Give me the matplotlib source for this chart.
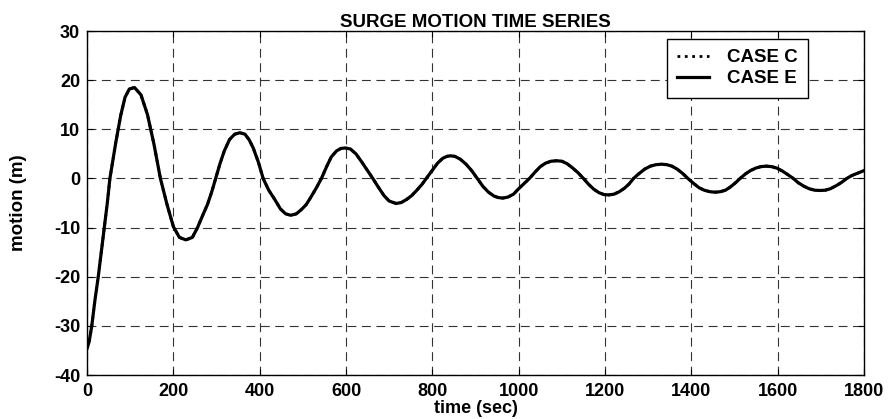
import matplotlib
matplotlib.use("Agg")
import matplotlib.pyplot as plt

# surge motion (time in s, motion in m)
time_s = [0, 5, 11, 18, 26, 33, 40, 47, 53,
          67, 78, 88, 98, 110,
          125, 140, 155, 170,
          185, 200, 214, 229,
          244, 256, 268, 279, 289, 298,
          308, 318, 330, 342, 354,
          366, 376, 385, 397, 408,
          421, 435, 448, 460, 472,
          485, 497, 508, 520, 532, 543,
          555, 566, 578, 588, 598,
          610, 623, 636, 649, 662,
          675, 688, 700, 716,
          728, 740, 752, 764, 776, 786,
          800, 812, 824, 834, 842,
          852, 865, 878, 891, 904,
          917, 930, 943, 953, 963,
          975, 988, 1001, 1013, 1025,
          1038, 1050, 1062, 1075, 1088,
          1100, 1112, 1124, 1137, 1150,
          1162, 1174, 1186, 1198, 1209,
          1221, 1233, 1245, 1256, 1266,
          1279, 1292, 1305, 1318, 1331,
          1343, 1355, 1367, 1380, 1392,
          1405, 1418, 1430, 1443, 1455,
          1467, 1479, 1491, 1502, 1513,
          1525, 1537, 1549, 1561, 1574,
          1586, 1598, 1611, 1623, 1636,
          1648, 1661, 1673, 1686, 1698,
          1710, 1722, 1735, 1748, 1760, 1772, 1786, 1800]

case_e = [-34.6, -33.2, -30.0, -25.0, -20.0, -15.0, -10.0, -5.0, 0.0,
          7.5, 12.8, 16.5, 18.2, 18.5,
          17.0, 13.0, 7.0, 0.0,
          -5.2, -9.8, -12.0, -12.5,
          -12.0, -10.0, -7.5, -5.3, -2.7, 0.0,
          3.0, 5.6, 7.9, 9.0, 9.3,
          9.0, 7.8, 6.2, 3.3, 0.0,
          -2.4, -4.3, -6.2, -7.2, -7.5,
          -7.2, -6.3, -5.3, -3.6, -1.8, 0.0,
          2.4, 4.4, 5.6, 6.1, 6.2,
          6.0, 5.0, 3.4, 1.7, 0.0,
          -1.8, -3.5, -4.6, -5.1,
          -4.9, -4.3, -3.5, -2.4, -1.2, 0.0,
          1.7, 3.1, 4.1, 4.5, 4.6,
          4.5, 3.9, 2.9, 1.6, 0.0,
          -1.6, -2.8, -3.6, -3.9, -4.0,
          -3.8, -3.2, -2.0, -1.0, 0.0,
          1.3, 2.4, 3.1, 3.5, 3.6,
          3.5, 3.0, 2.2, 1.2, 0.0,
          -1.2, -2.2, -2.9, -3.3, -3.35,
          -3.2, -2.7, -2.0, -1.1, 0.0,
          1.0, 1.9, 2.5, 2.8, 2.9,
          2.8, 2.5, 1.9, 1.0, 0.0,
          -1.0, -1.9, -2.4, -2.7, -2.8,
          -2.7, -2.4, -1.7, -0.9, 0.0,
          0.9, 1.6, 2.1, 2.4, 2.5,
          2.4, 2.1, 1.5, 0.8, 0.0,
          -0.9, -1.6, -2.1, -2.4, -2.45,
          -2.4, -2.1, -1.5, -0.8, 0.0, 0.6, 1.1, 1.6]

# case C lies right under case E in the reference
case_c = list(case_e)

x_ticks = [0, 200, 400, 600, 800, 1000, 1200, 1400, 1600, 1800]
y_ticks = [-40, -30, -20, -10, 0, 10, 20, 30]

plt.rcParams['font.family'] = ['Liberation Sans', 'DejaVu Sans']
plt.rcParams['font.weight'] = 'bold'

fig = plt.figure(figsize=(8.88, 4.19), dpi=100)
ax = fig.add_axes([0.098, 0.105, 0.875, 0.821])

ax.plot(time_s, case_c, color='black', lw=2.0, ls=':', label='CASE C')
ax.plot(time_s, case_e, color='black', lw=2.3, ls='-', label='CASE E')

ax.set_xlim(0, 1800)
ax.set_ylim(-40, 30)
ax.set_xticks(x_ticks)
ax.set_xticklabels([str(v) for v in x_ticks], fontsize=13, fontweight='bold')
ax.set_yticks(y_ticks)
ax.set_yticklabels([str(v) for v in y_ticks], fontsize=13, fontweight='bold')
ax.tick_params(direction='in', top=True, right=True, length=4, width=0.8)
ax.tick_params(axis='x', pad=6)
ax.tick_params(axis='y', pad=5)

ax.grid(True, color='0.2', lw=0.8, ls=(0, (8, 5)))
for sp in ax.spines.values():
    sp.set_linewidth(1.0)
    sp.set_color('black')

ax.set_title('SURGE MOTION TIME SERIES', fontsize=13.5, fontweight='bold', pad=3)
ax.set_xlabel('time (sec)', fontsize=13, fontweight='bold', labelpad=0)
ax.set_ylabel('motion (m)', fontsize=13.5, fontweight='bold', labelpad=19)

leg = ax.legend(loc='upper right', bbox_to_anchor=(0.928, 0.977), borderaxespad=0,
                fancybox=False, edgecolor='black', framealpha=1,
                prop={'size': 13.5, 'weight': 'bold'},
                handlelength=1.7, handletextpad=0.95, borderpad=0.55, labelspacing=0.2)
leg.get_frame().set_linewidth(1.0)

fig.savefig('out.png', dpi=100)
